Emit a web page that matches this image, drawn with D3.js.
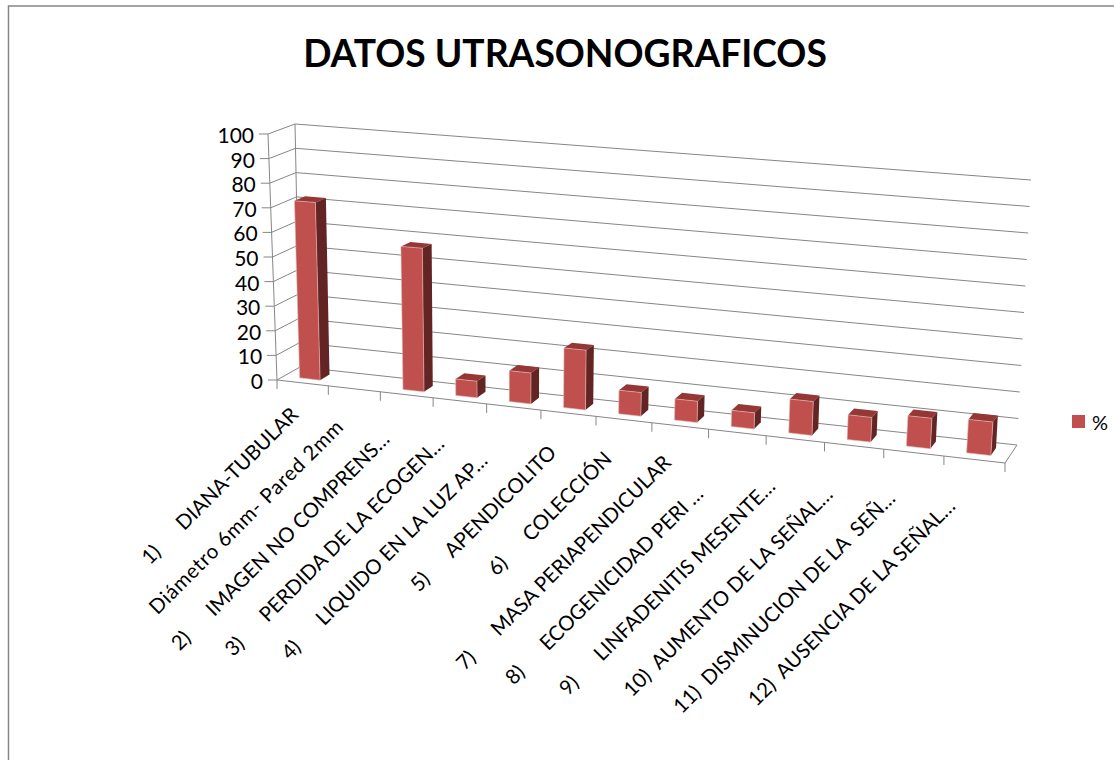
<!DOCTYPE html>
<html>
<head>
<meta charset="utf-8">
<script src="https://cdn.jsdelivr.net/npm/d3@7"></script>
<style>
  html, body { margin: 0; padding: 0; background: #fff; }
  svg { display: block; }
  text { font-family: Lato, "Open Sans", sans-serif; fill: #000; white-space: pre; }
</style>
</head>
<body>
<div id="chart"></div>
<script>
const categories = [
  "1)      DIANA-TUBULAR",
  "Diámetro 6mm- Pared 2mm",
  "2)      IMAGEN NO COMPRENS…",
  "3)      PERDIDA DE LA ECOGEN…",
  "4)      LIQUIDO EN LA LUZ AP…",
  "5)      APENDICOLITO",
  "6)      COLECCIÓN",
  "7)      MASA PERIAPENDICULAR",
  "8)      ECOGENICIDAD PERI …",
  "9)      LINFADENITIS MESENTE…",
  "10)  AUMENTO DE LA SEÑAL…",
  "11)  DISMINUCION DE LA  SEÑ…",
  "12)  AUSENCIA DE LA SEÑAL…"
];
const values = [72, 0, 57, 6.5, 12, 23, 9, 8, 6, 12.5, 9, 11, 12];
const yTicks = [0, 10, 20, 30, 40, 50, 60, 70, 80, 90, 100];
const seriesName = "%";
const chartTitle = "DATOS UTRASONOGRAFICOS";

const width = 1114, height = 760;

const svg = d3.select("#chart").append("svg")
  .attr("width", width)
  .attr("height", height);

// corners of the 3d box on screen [x, y]
const box = {
  floorFrontL: [277, 380], floorFrontR: [1005, 463],
  floorBackL: [300, 367], floorBackR: [1017, 445],
  topFrontL: [268, 134], topFrontR: [1024, 175],
  topBackL: [295, 124], topBackR: [1031, 180]
};

const xScale = d3.scaleLinear().domain([0, categories.length]).range([0, 1]);
const yScale = d3.scaleLinear().domain([0, 100]).range([0, 1]);

// slight perspective along the category axis
const k = 0.91;
const warp = t => t * k / (1 + t * (k - 1));
const mix = (a, b, f) => [a[0] + (b[0] - a[0]) * f, a[1] + (b[1] - a[1]) * f];

// i = category position, v = value, d = depth (0 front, 1 back)
function project(i, v, d) {
  const s = warp(xScale(i)), h = yScale(v);
  const floor = mix(mix(box.floorFrontL, box.floorFrontR, s), mix(box.floorBackL, box.floorBackR, s), d);
  const top = mix(mix(box.topFrontL, box.topFrontR, s), mix(box.topBackL, box.topBackR, s), d);
  return mix(floor, top, h);
}

const line = d3.line();
const gridColor = "#868686";

//=== walls and floor ===
const grid = svg.append("g").attr("fill", "none").attr("stroke", gridColor).attr("stroke-width", 1);

yTicks.forEach(v => {
  grid.append("path").attr("d", line([project(0, v, 0), project(0, v, 1), project(categories.length, v, 1)]));
  const p = project(0, v, 0);
  grid.append("path").attr("d", line([p, [p[0] - 9, p[1]]]));
});
grid.append("path").attr("d", line([project(0, 0, 0), project(0, 100, 0)]));
grid.append("path").attr("d", line([project(0, 100, 1), project(0, 0, 1)]));
grid.append("path").attr("d", line([
  project(0, 0, 0), project(categories.length, 0, 0), project(categories.length, 0, 1)
]));
d3.range(categories.length + 1).forEach(i => {
  const p = project(i, 0, 0);
  grid.append("path").attr("d", line([p, [p[0], p[1] + 9]]));
});

//=== y labels ===
svg.append("g").selectAll("text")
  .data(yTicks)
  .join("text")
  .attr("text-anchor", "end")
  .attr("font-size", 21)
  .attr("x", d => project(0, d, 0)[0] - 14)
  .attr("y", d => project(0, d, 0)[1] + 9)
  .text(d => d);

//=== bars ===
const barFrom = 0.31, barTo = 0.71, depthFrom = 0.3, depthTo = 0.72;
const bars = svg.append("g");

values.forEach((v, i) => {
  if (v <= 0) return;
  const a = i + barFrom, b = i + barTo;
  const g = bars.append("g").attr("stroke-linejoin", "round");
  // top
  g.append("path")
    .attr("d", line([project(a, v, depthFrom), project(b, v, depthFrom), project(b, v, depthTo), project(a, v, depthTo)]) + "Z")
    .attr("fill", "#953735");
  // side
  g.append("path")
    .attr("d", line([project(b, 0, depthFrom), project(b, v, depthFrom), project(b, v, depthTo), project(b, 0, depthTo)]) + "Z")
    .attr("fill", "#632523");
  // front
  g.append("path")
    .attr("d", line([project(a, 0, depthFrom), project(b, 0, depthFrom), project(b, v, depthFrom), project(a, v, depthFrom)]) + "Z")
    .attr("fill", "#C0504D")
    .attr("stroke", "#E6B9B8")
    .attr("stroke-width", 0.6);
});

//=== category labels ===
// each label slides along its own direction, the way the original chart placed them
const labelSlide = [0, -9, -18, -16, -31, -11, -11, -7, -42, -22, -24, -20, -21];

svg.append("g").selectAll("text")
  .data(categories)
  .join("text")
  .attr("text-anchor", "end")
  .attr("font-size", 20.4)
  .attr("letter-spacing", (d, i) => i === 1 ? 0.7 : 0)
  .attr("x", (d, i) => labelSlide[i])
  .attr("transform", (d, i) => {
    const p = project(i + 0.5, 0, 0);
    return `translate(${p[0] - 3},${p[1] + 33}) rotate(-45)`;
  })
  .text(d => d);

//=== title ===
svg.append("text")
  .attr("x", 565)
  .attr("y", 67)
  .attr("text-anchor", "middle")
  .attr("font-size", 37.2)
  .attr("font-weight", 700)
  .text(chartTitle);

//=== legend ===
svg.append("rect")
  .attr("x", 1072).attr("y", 415)
  .attr("width", 13).attr("height", 13)
  .attr("fill", "#C0504D");
svg.append("text")
  .attr("x", 1092).attr("y", 430)
  .attr("font-size", 20)
  .text(seriesName);

//=== frame ===
svg.append("path")
  .attr("d", line([[8.5, height], [8.5, 6], [width, 6]]))
  .attr("fill", "none")
  .attr("stroke", "#868686")
  .attr("stroke-width", 1.5);
</script>
</body>
</html>
